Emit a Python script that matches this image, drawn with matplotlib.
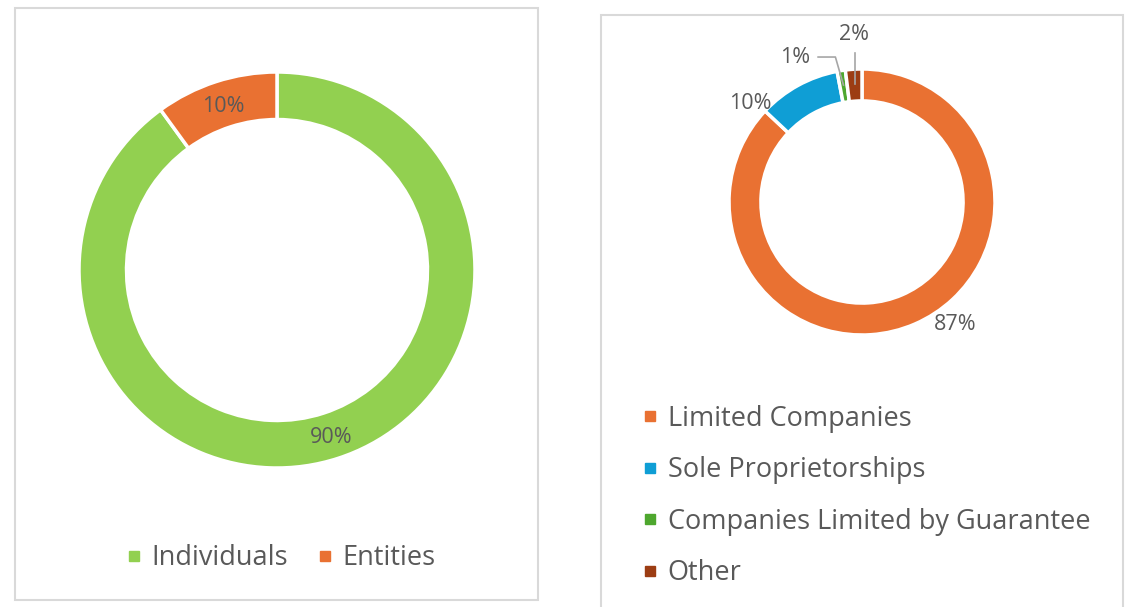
import numpy as np
import matplotlib
matplotlib.use("Agg")
import matplotlib.pyplot as plt
from matplotlib.lines import Line2D
from matplotlib.patches import Rectangle

plt.rcParams['font.family'] = ['Open Sans', 'DejaVu Sans']

# left donut: who holds the records
owner_labels = ["Individuals", "Entities"]
owner_values = [90, 10]
owner_colors = ["#92D050", "#E97132"]

# right donut: type of entity
entity_labels = ["Limited Companies", "Sole Proprietorships",
                 "Companies Limited by Guarantee", "Other"]
entity_values = [87, 10, 1, 2]
entity_colors = ["#E97132", "#0F9ED5", "#4EA72E", "#9C3D13"]

TEXT = "#595959"
BORDER = "#D9D9D9"
W, H = 1128, 607

fig = plt.figure(figsize=(W / 100, H / 100), dpi=100)


def px_axes(cx, cy, r):
    # square axes centred on a pixel position, radius r pixels
    return fig.add_axes([(cx - r) / W, (H - cy - r) / H, 2 * r / W, 2 * r / H])


# panel frames
for x0, y0, x1, y1 in [(15, 8, 538, 600), (601, 15, 1123, 615)]:
    fig.patches.append(Rectangle((x0 / W, 1 - y1 / H), (x1 - x0) / W, (y1 - y0) / H,
                                 transform=fig.transFigure, fill=False,
                                 edgecolor=BORDER, linewidth=1.5))

# ---- left donut
ax1 = px_axes(277, 270, 198)
wedges1, _ = ax1.pie(owner_values, colors=owner_colors, startangle=90, counterclock=False,
                     radius=1, wedgeprops=dict(width=0.24, edgecolor="white", linewidth=2.5))
ax1.set_xlim(-1, 1)
ax1.set_ylim(-1, 1)
ax1.set_aspect("equal")
ax1.axis("off")

for w, v in zip(wedges1, owner_values):
    ang = np.deg2rad((w.theta1 + w.theta2) / 2)
    ax1.text(0.88 * np.cos(ang), 0.88 * np.sin(ang) - 0.01, f"{v}%", ha="center",
             va="center", fontsize=15.5, color=TEXT)

handles1 = [Line2D([], [], marker="s", linestyle="none", markersize=7.5, color=c)
            for c in owner_colors]
fig.legend(handles1, owner_labels, loc="center", bbox_to_anchor=(280 / W, 1 - 558 / H),
           ncol=2, frameon=False, fontsize=19.5, labelcolor=TEXT, handletextpad=0.3,
           columnspacing=1.0, handlelength=0.7)

# ---- right donut
ax2 = px_axes(862, 202, 133)
wedges2, _ = ax2.pie(entity_values, colors=entity_colors, startangle=90, counterclock=False,
                     radius=1, wedgeprops=dict(width=0.24, edgecolor="white", linewidth=2.5))
ax2.set_xlim(-1, 1)
ax2.set_ylim(-1, 1)
ax2.set_aspect("equal")
ax2.axis("off")

# label spots (x, y in radius units) as placed in the original
label_pos = [(0.70, -0.92), (-0.84, 0.74), (-0.50, 1.09), (-0.06, 1.26)]
for w, v, (lx, ly) in zip(wedges2, entity_values, label_pos):
    ax2.text(lx, ly, f"{v}%", ha="center", va="center", fontsize=15.5, color=TEXT,
             clip_on=False)

# leader lines for the two thin slices
for i, knee in [(2, (-0.20, 1.09)), (3, None)]:
    w = wedges2[i]
    ang = np.deg2rad((w.theta1 + w.theta2) / 2)
    px, py = 0.89 * np.cos(ang), 0.89 * np.sin(ang)
    if knee is None:
        xs, ys = [px, px], [py, 1.12]
    else:
        xs, ys = [px, knee[0], -0.33], [py, knee[1], knee[1]]
    ax2.plot(xs, ys, color="#A6A6A6", linewidth=1.2, clip_on=False)

handles2 = [Line2D([], [], marker="s", linestyle="none", markersize=7.5, color=c)
            for c in entity_colors]
fig.legend(handles2, entity_labels, loc="upper left", bbox_to_anchor=(627 / W, 1 - 391 / H),
           ncol=1, frameon=False, fontsize=19.5, labelcolor=TEXT, handletextpad=0.3,
           labelspacing=0.87, handlelength=0.7, borderpad=0)

fig.savefig("out.png", dpi=100)
